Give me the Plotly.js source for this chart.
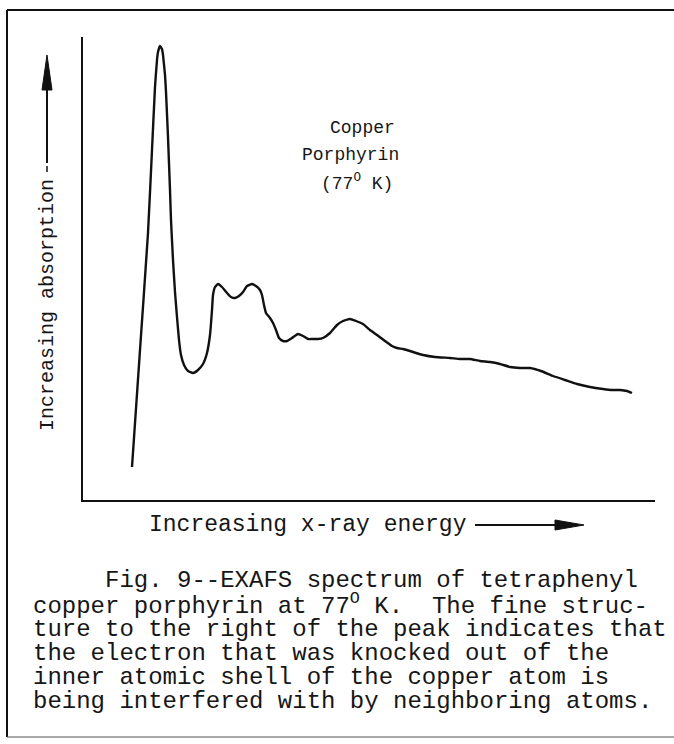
<!DOCTYPE html>
<html>
<head>
<meta charset="utf-8">
<script src="https://cdn.plot.ly/plotly-3.0.1.min.js"></script>
<style>
html,body{margin:0;padding:0;background:#fff;}
#chart{width:674px;height:744px;}
</style>
</head>
<body>
<div id="chart"></div>
<script>
// Energy (arbitrary units, increasing to the right)
const energy = [49,57,65,69,72,74,75,77,79,80,82,83,85,87,88,90,92,94,96,98,101,105,110,
  115,120,124,127,129,130,132,135,139,144,148,152,156,160,164,169,173,177,179,181,
  183,187,190,193,196,200,204,209,215,220,225,230,235,240,247,254,260,267,273,280,
  287,294,302,309,314,320,327,333,340,352,367,377,387,397,407,417,427,437,447,458,
  470,482,494,507,520,529,537,544,549];
// Absorption (arbitrary units, increasing upward)
const absorption = [33,150,267,350,413,440,448,454,451,445,425,408,363,310,280,240,208,183,160,145,135,129,127,
  130,136,147,165,190,205,213,216,213,207,203,202,204,208,214,216,214,210,205,195,
  187,182,177,170,162,159,159,162,166,164,161,161,161,162,167,175,179,181,179,176,
  170,165,159,154,152,151,149,147,145,143,142,141,141,139,138,136,133,132,132,129,
  124,120,116,113,111,110,110,109,107];

const xTitle = "Increasing x-ray energy";
const yTitle = "Increasing absorption";
const sampleLabel = ["Copper", "Porphyrin", "(77<sup>O</sup> K)"];
const caption = [
  "Fig. 9--EXAFS spectrum of tetraphenyl",
  "copper porphyrin at 77<sup>O</sup> K.\u00A0\u00A0The fine struc-",
  "ture to the right of the peak indicates that",
  "the electron that was knocked out of the",
  "inner atomic shell of the copper atom is",
  "being interfered with by neighboring atoms."
];

// plot area in pixels
const L = 83, T = 37, R = 655, B = 500;
const W = R - L, H = B - T;
const px = v => (v - L) / W;
const py = v => (B - v) / H;

const font = "Liberation Mono, Courier New, monospace";
const ink = '#161616';

const annotations = [];
// y title
annotations.push({text: yTitle, xref:'paper', yref:'paper', x: px(47), y: py(305), textangle: -90,
  showarrow:false, font:{family:font, size:20, color:ink}, xanchor:'center', yanchor:'middle'});
// x title
annotations.push({text: xTitle, xref:'paper', yref:'paper', x: px(147), y: py(525),
  showarrow:false, font:{family:font, size:23, color:ink}, xanchor:'left', yanchor:'middle'});
// sample label
const labX = [362, 350, 357];
const labY = [128, 155, 183];
sampleLabel.forEach((t, i) => {
  annotations.push({text: t, xref:'paper', yref:'paper', x: px(labX[i]), y: py(labY[i]),
    showarrow:false, font:{family:font, size:18, color:ink}, xanchor:'center', yanchor:'middle'});
});
// caption
const capY = [580, 604, 629, 653, 677, 701];
caption.forEach((t, i) => {
  annotations.push({text: t, xref:'paper', yref:'paper', x: px(i === 0 ? 103 : 31), y: py(capY[i]),
    showarrow:false, font:{family:font, size:24, color:ink}, xanchor:'left', yanchor:'middle'});
});

const shapes = [
  // outer border
  {type:'line', xref:'paper', yref:'paper', x0:px(7), x1:px(7), y0:py(10), y1:py(737), line:{color:'#111', width:2}},
  {type:'line', xref:'paper', yref:'paper', x0:px(7), x1:px(674), y0:py(10), y1:py(10), line:{color:'#111', width:2}},
  {type:'line', xref:'paper', yref:'paper', x0:px(7), x1:px(674), y0:py(737), y1:py(737), line:{color:'#555', width:1}},
  // y arrow shaft
  {type:'line', xref:'paper', yref:'paper', x0:px(47), x1:px(47), y0:py(163), y1:py(80), line:{color:'#111', width:2}},
  {type:'line', xref:'paper', yref:'paper', x0:px(47), x1:px(47), y0:py(172), y1:py(166), line:{color:'#111', width:1.5}},
  // y arrow head
  {type:'path', xref:'paper', yref:'paper',
   path:`M ${px(47)} ${py(55)} L ${px(52)} ${py(90)} L ${px(42)} ${py(90)} Z`,
   fillcolor:'#111', line:{color:'#111', width:1}},
  // x arrow shaft
  {type:'line', xref:'paper', yref:'paper', x0:px(475), x1:px(565), y0:py(525), y1:py(525), line:{color:'#111', width:2}},
  // x arrow head
  {type:'path', xref:'paper', yref:'paper',
   path:`M ${px(584)} ${py(525)} L ${px(555)} ${py(520)} L ${px(555)} ${py(530)} Z`,
   fillcolor:'#111', line:{color:'#111', width:1}}
];

const trace = {
  x: energy, y: absorption, type:'scatter', mode:'lines',
  line:{color:'#111', width:2.4, shape:'spline', smoothing:0.4},
  hoverinfo:'skip'
};

const layout = {
  width:674, height:744,
  margin:{l:L, r:674-R, t:T, b:744-B, pad:0},
  paper_bgcolor:'#fff', plot_bgcolor:'#fff',
  showlegend:false,
  xaxis:{range:[0, W], showgrid:false, zeroline:false, showticklabels:false, ticks:'',
         showline:true, linecolor:'#111', linewidth:2, fixedrange:true},
  yaxis:{range:[0, H], showgrid:false, zeroline:false, showticklabels:false, ticks:'',
         showline:true, linecolor:'#111', linewidth:2, fixedrange:true},
  annotations: annotations,
  shapes: shapes
};

Plotly.newPlot('chart', [trace], layout, {staticPlot:true, displayModeBar:false});
</script>
</body>
</html>
